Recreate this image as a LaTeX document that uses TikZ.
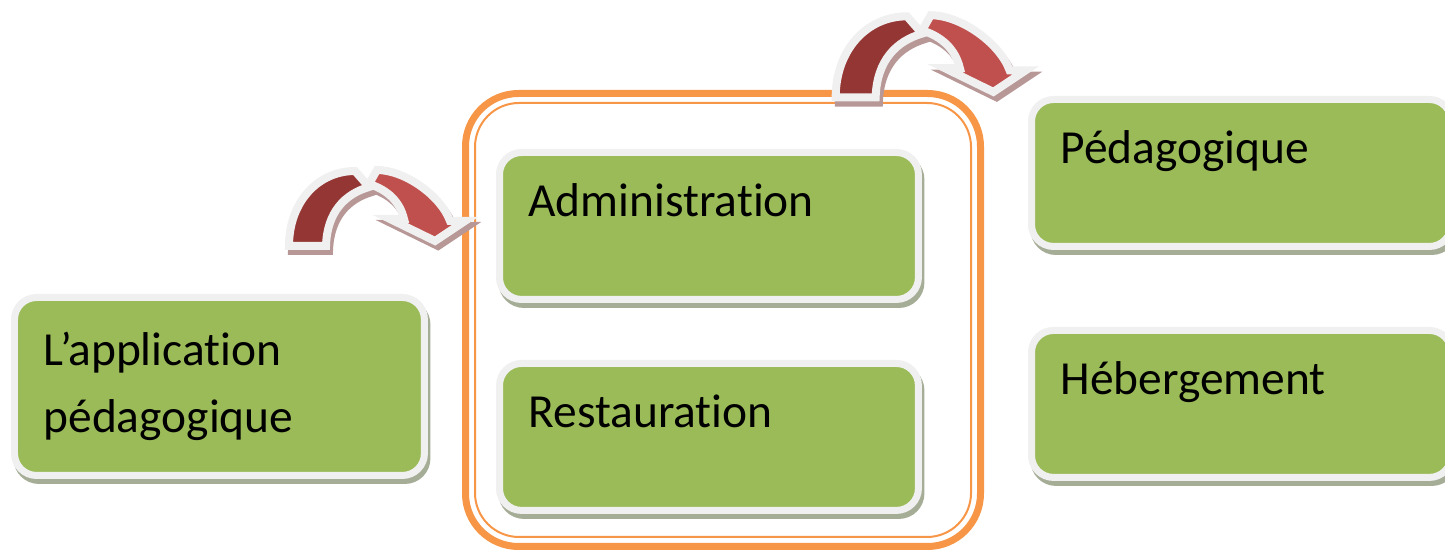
\documentclass[tikz,border=0pt]{standalone}
\usepackage{fontspec}
\setmainfont{Carlito}[Ligatures=NoCommon]
\usetikzlibrary{positioning}
\definecolor{Vert}{HTML}{9BBB59}
\definecolor{BordGris}{HTML}{F0F0F0}
\definecolor{OmbreVert}{HTML}{A5AD96}
\definecolor{Orange}{HTML}{F79646}
\definecolor{RougeFonce}{HTML}{943634}
\definecolor{RougeClair}{HTML}{C0504D}
\definecolor{OmbreRouge}{HTML}{B89797}

\tikzset{
  bloc/.style={rectangle, rounded corners=0.44cm, fill=Vert, draw=BordGris, line width=0.14cm,
    preaction={fill=OmbreVert, draw=OmbreVert, transform canvas={xshift=0.05cm, yshift=-0.1cm}},
    font=\fontsize{27}{38}\selectfont, align=left, inner xsep=0.58cm, inner ysep=0pt,
    text height=1.28cm, text depth=1.66cm},
  cadre/.style={draw=Orange, rounded corners=1.06cm},
  pics/flechecourbe/.style={code={
    \begin{scope}[x=0.02cm, y=0.02cm, line width=0.16cm, line join=miter]
    \foreach \dx/\dy/\cf/\cc/\cb in {3/-5/OmbreRouge/OmbreRouge/OmbreRouge, 0/0/RougeFonce/RougeClair/BordGris}{
      \filldraw[fill=\cf, draw=\cb, shift={(\dx,\dy)}] (-4,-4) .. controls (-4,40) and (25,71) .. (62,71) -- (76,55) .. controls (52,48) and (34,30) .. (33,-4) -- cycle;
      \filldraw[fill=\cc, draw=\cb, shift={(\dx,\dy)}] (84,72) .. controls (112,72) and (148,46) .. (157,21) -- (172,21) -- (142,1) -- (97,23) -- (111,23) .. controls (107,40) and (95,52) .. (76,58) -- cycle;
    }
    \end{scope}
  }}
}

\begin{document}
\begin{tikzpicture}[x=0.02cm, y=-0.02cm]
\useasboundingbox (0,0) rectangle (1445,553);
% cadre orange
\draw[cadre, line width=0.14cm] (465.5,93.5) rectangle (980.5,546.5);
\draw[cadre, line width=0.04cm, rounded corners=0.88cm] (475,103) rectangle (971,537);
% blocs
\node[bloc, text width=7.04cm, text height=1.36cm, text depth=2.2cm, anchor=north west] (appli) at (11,294) {L’application\\pédagogique};
\node[bloc, text width=7.22cm, anchor=north west] (admin) at (496,149) {Administration};
\node[bloc, text width=7.22cm, below=1.14cm of admin] (resto) {Restauration};
\node[bloc, text width=7.24cm, anchor=north west] (peda) at (1028,96) {Pédagogique};
\node[bloc, text width=7.24cm, below=1.54cm of peda] (heberg) {Hébergement};
% fleches
\pic at (293,242) {flechecourbe};
\pic[scale=1.08] at (840,93) {flechecourbe};
\end{tikzpicture}
\end{document}
